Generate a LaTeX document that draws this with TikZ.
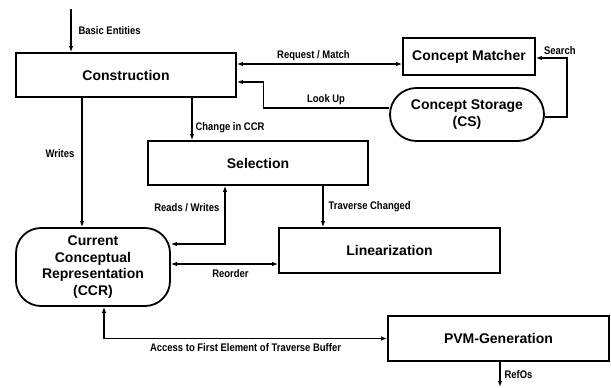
\documentclass[tikz,border=0pt]{standalone}
\usepackage{fontspec}
\setmainfont{Liberation Sans}
\newfontfamily\narrowfont{Liberation Sans}[FakeStretch=0.86]
\usetikzlibrary{arrows.meta}

\begin{document}
\begin{tikzpicture}[
  x=1pt, y=-1pt,
  every node/.style={inner sep=0pt},
  block/.style={draw, line width=1.8pt, rectangle, font=\fontsize{14}{16.6}\selectfont\bfseries, align=center},
  store/.style={block, rounded corners=#1},
  lbl/.style={font=\narrowfont\fontsize{11}{12}\selectfont\bfseries, inner sep=0pt},
  arr/.style={line width=1.2pt, -{Latex[length=6pt,width=4.5pt]}},
  dbl/.style={line width=1.2pt, {Latex[length=6pt,width=4.5pt]}-{Latex[length=6pt,width=4.5pt]}}
]
\useasboundingbox (0,0) rectangle (611,388);

% the blocks
\node[block, minimum width=220pt, minimum height=44pt] (con)   at (126,75)    {Construction};
\node[block, minimum width=132pt, minimum height=37pt] (match) at (469,56.5)  {Concept Matcher};
\node[store=26.5pt, minimum width=154pt, minimum height=53pt] (cs) at (467,114.5) {Concept Storage\\(CS)};
\node[block, minimum width=220pt, minimum height=44pt] (sel)   at (258,163)   {Selection};
\node[block, minimum width=221pt, minimum height=45pt] (lin)   at (389.5,250.5) {Linearization};
\node[store=25pt, minimum width=154pt, minimum height=78pt] (ccr) at (93,267) {Current\\Conceptual\\Representation\\(CCR)};
\node[block, minimum width=221pt, minimum height=45pt] (pvm)   at (498.5,338.5) {PVM-Generation};

% lanes and free ends
\coordinate (in)  at (71,9);
\coordinate (out) at (500,387);
\coordinate (wx)  at (82,0);
\coordinate (cx)  at (192,0);
\coordinate (rx)  at (225,0);
\coordinate (tx)  at (323,0);
\coordinate (ax)  at (104,0);
\coordinate (rm)  at ([yshift=-7.5pt]match.west);

% connectors
\draw[arr] (in) -- (in |- con.north) node[lbl, midway, right=7pt] {Basic Entities};
\draw[dbl] (rm -| con.east) -- (rm) node[lbl, midway, above=3pt, xshift=-6pt] {Request / Match};
\draw[arr] ([yshift=6.5pt]cs.west) -- ++(-126,0) node[lbl, midway, above=3pt] {Look Up}
  |- ([yshift=-7pt]con.east);
\draw[arr] ([yshift=-2.5pt]cs.east) -- ++(22,0)
  |- node[lbl, pos=0.5, above=3pt, xshift=-7pt] {Search} ([yshift=-1.5pt]match.east);
\draw[arr] (con.south -| wx) -- (ccr.north -| wx) node[lbl, pos=0.43, left=7pt] {Writes};
\draw[arr] (con.south -| cx) -- (sel.north -| cx) node[lbl, pos=0.7, right=3pt] {Change in CCR};
\draw[dbl] (sel.south -| rx) |- node[lbl, pos=0.19, left=5pt] {Reads / Writes} ([yshift=23pt]ccr.east);
\draw[arr] (sel.south -| tx) -- (lin.north -| tx) node[lbl, midway, right=5pt] {Traverse Changed};
\draw[dbl] ([yshift=3pt]ccr.east) -- ([yshift=-13.5pt]lin.west) node[lbl, midway, below=5pt, xshift=6pt] {Reorder};
\draw[dbl] (ccr.south -| ax) |- node[lbl, pos=0.75, below=4pt] {Access to First Element of Traverse Buffer} (pvm.west);
\draw[arr] (pvm.south -| out) -- (out) node[lbl, midway, right=4pt] {RefOs};
\end{tikzpicture}
\end{document}
